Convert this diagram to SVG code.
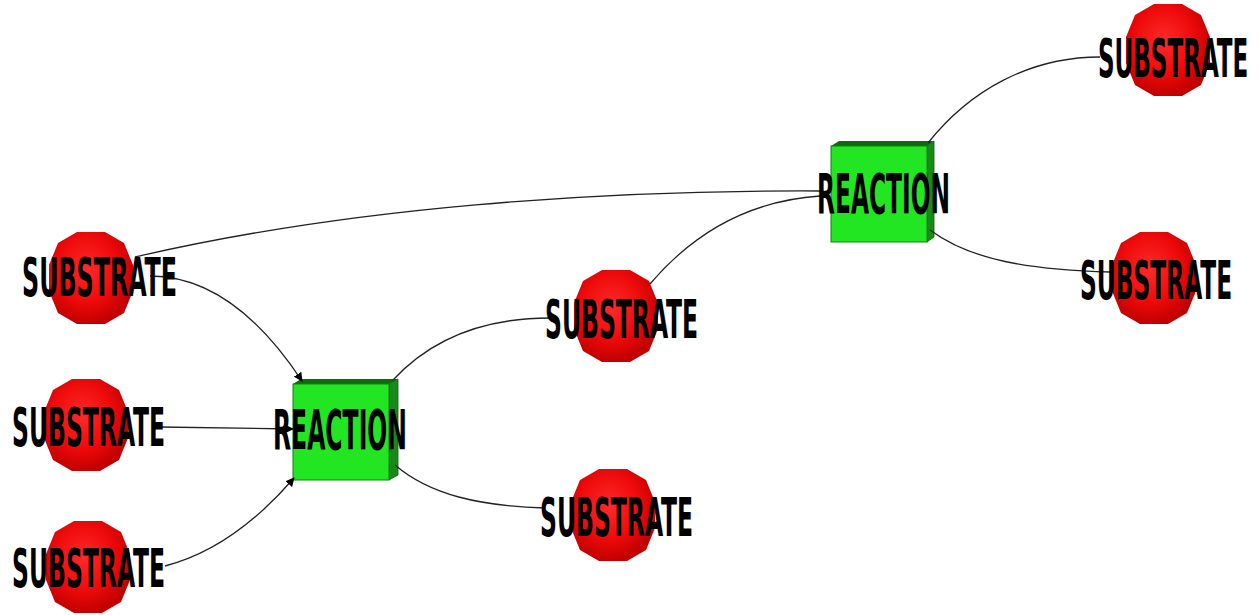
<svg xmlns="http://www.w3.org/2000/svg" width="1258" height="615" viewBox="0 0 1258 615">
<defs>
<radialGradient id="red" cx="0.45" cy="0.4" r="0.6">
<stop offset="0" stop-color="#ff2a2a"/>
<stop offset="0.6" stop-color="#ee0a0a"/>
<stop offset="1" stop-color="#c00000"/>
</radialGradient>
<polygon id="oct" points="-14,-46 14,-46 33,-35 42,-13 42,13 33,35 14,46 -14,46 -33,35 -42,13 -42,-13 -33,-35"/>
<marker id="arr" viewBox="0 0 10 10" refX="9" refY="5" markerWidth="9" markerHeight="9" markerUnits="userSpaceOnUse" orient="auto">
<path d="M0,0 L10,5 L0,10 z" fill="#000"/>
</marker>
</defs>
<style>
.sub{fill:url(#red);}
.front{fill:#22e622;stroke:#108010;stroke-width:1;}
.side{fill:#178a17;stroke:#0c5a0c;stroke-width:0.8;}
.top{fill:#0f6a0f;}
.lbl{font-family:"DejaVu Sans Condensed","DejaVu Sans",sans-serif;font-weight:bold;fill:#000;}
.s{font-size:54px;}
.r{font-size:56px;}
.e{fill:none;stroke:#222;stroke-width:1.3;}
</style>
<rect width="1258" height="615" fill="#fff"/>
<g id="nodes-shapes">
<g id="S1"><use href="#oct" class="sub" x="91" y="278"/></g>
<g id="S2"><use href="#oct" class="sub" x="86" y="425"/></g>
<g id="S3"><use href="#oct" class="sub" x="88" y="567"/></g>
<g id="S4"><use href="#oct" class="sub" x="616" y="316"/></g>
<g id="S5"><use href="#oct" class="sub" x="613" y="515"/></g>
<g id="S6"><use href="#oct" class="sub" x="1168" y="50"/></g>
<g id="S7"><use href="#oct" class="sub" x="1154" y="278"/></g>
<g id="R1">
<polygon class="top" points="293,384 301,379 398,379 389,384"/>
<polygon class="side" points="389,384 398,379 398,475 389,480"/>
<rect class="front" x="293" y="384" width="96" height="96"/>
</g>
<g id="R2">
<polygon class="top" points="831,146 839,141 934,141 927,146"/>
<polygon class="side" points="927,146 934,141 934,237 927,242"/>
<rect class="front" x="831" y="146" width="96" height="96"/>
</g>
</g>
<g id="connectors">
<path class="e" d="M135,257 C 350,207 600,190 820,191"/>
<path class="e" d="M150,276 C 215,276 265,325 302,381" marker-end="url(#arr)"/>
<path class="e" d="M160,427 L 293,429" marker-end="url(#arr)"/>
<path class="e" d="M165,566 C 220,552 262,515 294,478" marker-end="url(#arr)"/>
<path class="e" d="M393,380 C 430,340 480,318 550,318"/>
<path class="e" d="M395,465 C 430,495 480,506 545,508"/>
<path class="e" d="M650,284 C 700,225 760,200 820,196"/>
<path class="e" d="M928,143 C 970,90 1030,57 1100,57"/>
<path class="e" d="M930,230 C 970,260 1030,270 1110,272"/>
</g>
<g id="labels">
<text class="lbl s" transform="translate(22,296) scale(0.48,1)" x="0" y="0" textLength="323" lengthAdjust="spacingAndGlyphs">SUBSTRATE</text>
<text class="lbl s" transform="translate(12,446) scale(0.48,1)" x="0" y="0" textLength="319" lengthAdjust="spacingAndGlyphs">SUBSTRATE</text>
<text class="lbl s" transform="translate(12,587) scale(0.48,1)" x="0" y="0" textLength="319" lengthAdjust="spacingAndGlyphs">SUBSTRATE</text>
<text class="lbl s" transform="translate(545,338) scale(0.48,1)" x="0" y="0" textLength="319" lengthAdjust="spacingAndGlyphs">SUBSTRATE</text>
<text class="lbl s" transform="translate(540,536) scale(0.48,1)" x="0" y="0" textLength="319" lengthAdjust="spacingAndGlyphs">SUBSTRATE</text>
<text class="lbl s" transform="translate(1098,77) scale(0.48,1)" x="0" y="0" textLength="313" lengthAdjust="spacingAndGlyphs">SUBSTRATE</text>
<text class="lbl s" transform="translate(1080,299) scale(0.48,1)" x="0" y="0" textLength="317" lengthAdjust="spacingAndGlyphs">SUBSTRATE</text>
<text class="lbl r" transform="translate(273,449) scale(0.467,1)" x="0" y="0" textLength="287" lengthAdjust="spacingAndGlyphs">REACTION</text>
<text class="lbl r" transform="translate(817,213) scale(0.467,1)" x="0" y="0" textLength="285" lengthAdjust="spacingAndGlyphs">REACTION</text>
</g>
</svg>
